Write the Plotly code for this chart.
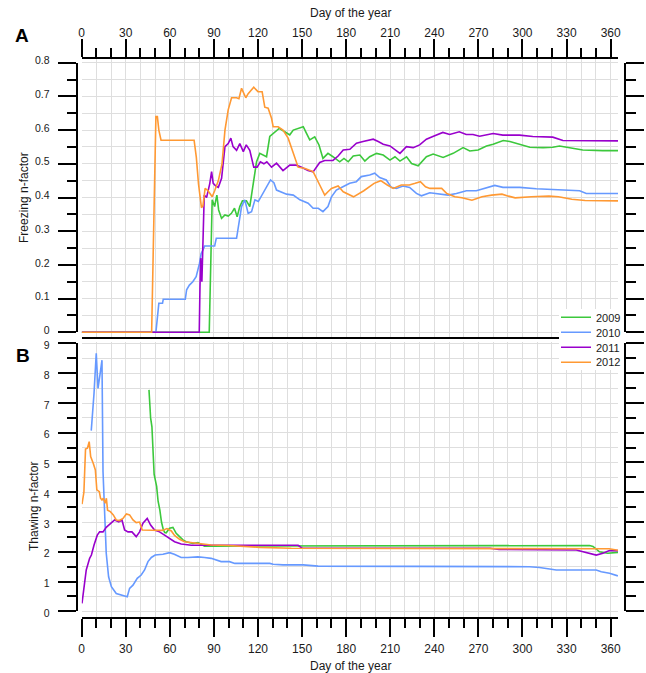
import plotly.graph_objects as go

W, H = 646, 673


def fx(x):
    return x / W


def fy(y):
    return 1 - y / H


# ---------------- data ----------------
years = ["2009", "2010", "2011", "2012"]
colors = ["rgb(60,200,60)", "rgb(102,153,255)", "rgb(153,0,204)", "rgb(255,153,51)"]

# Panel A: freezing n-factor
a2009_day = [0, 86.8, 88.8, 89.5, 90.5, 91.3, 92, 93.2, 95.2, 97.5, 99.7, 101.9, 104, 105.8, 107.6, 109.4,
             112.1, 114.4, 116.7, 119, 121.2, 123.5, 125.8, 128, 131.4, 134.4, 138.2, 141.6, 144, 147.3,
             150.8, 153, 155.2, 158.6, 161.5, 164.2, 167.6, 171, 175.6, 178.5, 181.4, 184.8, 189.3, 192.7,
             196, 200.7, 205.2, 209.8, 213.2, 216.6, 221.1, 224.5, 229, 234.6, 239.2, 246, 252.8, 259.6,
             264.1, 269.8, 275.5, 280, 286.9, 291.4, 298.2, 305, 314, 320.6, 325.2, 332, 341, 354.6, 365]
a2009_val = [0, 0, 0.393, 0.383, 0.373, 0.393, 0.407, 0.363, 0.338, 0.348, 0.345, 0.353, 0.368, 0.343,
             0.373, 0.39, 0.39, 0.373, 0.442, 0.506, 0.531, 0.526, 0.521, 0.581, 0.595, 0.605, 0.595,
             0.586, 0.60, 0.605, 0.61, 0.59, 0.571, 0.58, 0.556, 0.516, 0.531, 0.521, 0.506, 0.516, 0.506,
             0.523, 0.526, 0.508, 0.521, 0.531, 0.526, 0.511, 0.521, 0.508, 0.521, 0.501, 0.494, 0.521,
             0.529, 0.519, 0.531, 0.548, 0.538, 0.541, 0.553, 0.558, 0.569, 0.566, 0.558, 0.549, 0.548,
             0.549, 0.553, 0.548, 0.541, 0.539, 0.539]

a2010_day = [0, 50.5, 52.5, 55, 55.5, 70.5, 71.4, 73.3, 75.6, 77.9, 80.2, 81.3, 82.5, 83.7, 90.5, 91.6,
             105.4, 106.5, 108.8, 111, 113.3, 115.6, 117.9, 120.2, 122.5, 125.8, 128.5, 130.8, 132.6,
             139.4, 144, 148.5, 154.1, 157.5, 161, 164.2, 167.6, 170, 173.3, 177.8, 182.4, 186.9, 190.3,
             196, 199.4, 202.8, 207.3, 210.7, 214.2, 218.7, 223.2, 227.8, 231.2, 236.9, 243.7, 249.3, 255,
             261.8, 268.6, 275.4, 281.1, 286.7, 298.1, 309.4, 320.7, 334.3, 338.9, 343.4, 365]
a2010_val = [0, 0, 0.086, 0.086, 0.098, 0.098, 0.126, 0.14, 0.15, 0.165, 0.205, 0.234, 0.244, 0.256,
             0.256, 0.279, 0.279, 0.313, 0.373, 0.393, 0.353, 0.358, 0.393, 0.388, 0.407, 0.432, 0.452,
             0.444, 0.422, 0.41, 0.407, 0.393, 0.383, 0.368, 0.368, 0.358, 0.373, 0.402, 0.422, 0.432,
             0.442, 0.447, 0.462, 0.467, 0.472, 0.459, 0.452, 0.43, 0.427, 0.434, 0.43, 0.412, 0.405,
             0.414, 0.409, 0.407, 0.412, 0.42, 0.42, 0.429, 0.436, 0.43, 0.43, 0.426, 0.424, 0.422, 0.42,
             0.412, 0.412]

a2011_day = [0, 80, 80.5, 81, 81.8, 82.7, 83.4, 85, 86, 87.2, 88.4, 89.5, 91.3, 93, 95.2, 97.5, 99.7,
             101.5, 103, 105.4, 107.6, 110, 112, 114.4, 117.1, 119.4, 121.6, 124, 126, 129.2, 132.6, 137,
             141.6, 146, 149.6, 154, 157.5, 162, 165.4, 171, 174.5, 178, 182.5, 187, 191.5, 198.4, 201.8,
             205.2, 209.8, 216.6, 221, 225.6, 230, 234.6, 239, 245.8, 250.4, 257, 261.7, 266.3, 270.8,
             280, 286.6, 298, 307, 320.6, 327.5, 343.3, 365]
a2011_val = [0, 0, 0.135, 0.22, 0.15, 0.294, 0.407, 0.40, 0.42, 0.442, 0.477, 0.442, 0.434, 0.43, 0.457,
             0.551, 0.56, 0.576, 0.551, 0.54, 0.56, 0.536, 0.556, 0.54, 0.49, 0.49, 0.506, 0.50, 0.506,
             0.49, 0.502, 0.48, 0.496, 0.496, 0.49, 0.48, 0.476, 0.504, 0.51, 0.51, 0.523, 0.541, 0.543,
             0.561, 0.566, 0.573, 0.566, 0.558, 0.553, 0.531, 0.551, 0.548, 0.556, 0.573, 0.581, 0.593,
             0.587, 0.595, 0.587, 0.587, 0.582, 0.59, 0.585, 0.585, 0.581, 0.579, 0.569, 0.568, 0.568]

a2012_day = [0, 47.6, 50.5, 51.5, 52.5, 54, 76.5, 78, 79.5, 81.5, 82.5, 84, 86, 88.8, 90.5, 93, 95.5,
             97.5, 99.7, 102, 105.4, 107, 108.8, 111.7, 113.3, 117.1, 120, 122.8, 124.6, 126.9, 129.2,
             130.3, 133.7, 137, 140.5, 144, 147.3, 152, 157.5, 162, 165.4, 167.6, 170, 174.5, 178, 185,
             192, 199, 203.5, 208, 212, 217.5, 223, 227, 230.5, 234, 237, 245, 248.5, 254, 258.8, 265.6,
             272.4, 279, 286, 290.5, 295, 306, 318, 324.5, 333.6, 342.6, 354, 365]
a2012_val = [0, 0, 0.64, 0.64, 0.60, 0.57, 0.57, 0.52, 0.44, 0.37, 0.375, 0.427, 0.42, 0.402, 0.42, 0.45,
             0.50, 0.60, 0.66, 0.696, 0.696, 0.693, 0.724, 0.696, 0.708, 0.727, 0.714, 0.714, 0.668,
             0.665, 0.635, 0.61, 0.61, 0.60, 0.576, 0.531, 0.49, 0.486, 0.477, 0.437, 0.407, 0.417, 0.427,
             0.434, 0.417, 0.402, 0.42, 0.442, 0.45, 0.437, 0.427, 0.437, 0.437, 0.442, 0.447, 0.432,
             0.427, 0.427, 0.412, 0.402, 0.399, 0.392, 0.402, 0.407, 0.41, 0.404, 0.399, 0.402, 0.404,
             0.402, 0.395, 0.391, 0.39, 0.39]

# Panel B: thawing n-factor
b2009_day = [45.8, 46.9, 47.8, 48.6, 49.3, 51, 52, 53.2, 54.3, 55.5, 56.5, 57.5, 59.8, 62.1, 64.3, 66.6,
             68.9, 71.1, 75.6, 79.1, 83.6, 88.1, 147, 320, 325, 345.6, 348, 352.4, 358, 365]
b2009_val = [7.44, 6.5, 6.2, 5.0, 4.6, 4.2, 3.7, 3.4, 3.0, 2.75, 2.65, 2.64, 2.79, 2.82, 2.62, 2.51, 2.40,
             2.34, 2.28, 2.31, 2.19, 2.19, 2.19, 2.19, 2.21, 2.21, 2.18, 2.0, 1.95, 1.98]

b2010_day = [6.5, 8.4, 9.9, 11.1, 12.4, 13.8, 14.5, 15.6, 16.7, 18.3, 20.2, 23.5, 26.9, 31, 32.6, 34.9,
             37.8, 40.5, 42.8, 45.1, 47.4, 50, 55.3, 59.8, 63, 67.7, 72.2, 79.1, 83.6, 88.1, 94.9, 100.6,
             104.2, 128, 130.3, 137, 150.7, 160.9, 304.8, 311.6, 323, 350.2, 353.6, 359.2, 364.9]
b2010_val = [6.07, 7.33, 8.67, 7.49, 7.94, 8.44, 4.7, 3.07, 1.95, 1.16, 0.83, 0.6, 0.55, 0.49, 0.77, 0.88,
             1.11, 1.22, 1.39, 1.67, 1.81, 1.89, 1.92, 1.97, 1.92, 1.81, 1.81, 1.83, 1.81, 1.78, 1.67,
             1.67, 1.61, 1.61, 1.58, 1.56, 1.56, 1.52, 1.50, 1.47, 1.39, 1.39, 1.33, 1.28, 1.19]

b2011_day = [0.2, 2, 3.1, 5.4, 6.6, 8.4, 10.6, 12.2, 14.5, 16.7, 20.2, 22.4, 25.2, 27.4, 29.2, 31.5, 34.2,
             37.1, 39.4, 41.7, 44.6, 46.9, 49.6, 53, 56.4, 59.8, 63.2, 67.7, 74.6, 88.1, 147.3, 150, 278,
             284, 336.6, 350.2, 354.7, 359.2, 366]
b2011_val = [0.27, 1.05, 1.39, 1.78, 1.89, 2.23, 2.56, 2.67, 2.67, 2.82, 2.96, 3.07, 3.01, 3.07, 2.73,
             2.67, 2.67, 2.51, 2.67, 2.96, 3.12, 2.9, 2.73, 2.67, 2.56, 2.45, 2.34, 2.26, 2.22, 2.22, 2.22,
             2.12, 2.12, 2.08, 2.06, 1.89, 1.95, 2.04, 2.04]

b2012_day = [0.2, 1.5, 2.6, 3.9, 5.1, 6.1, 7.9, 9.3, 10.3, 12, 12.8, 13.8, 14.7, 16, 16.8, 17.6, 19.5,
             21.5, 23.5, 25.6, 28.1, 30.4, 32.6, 34.9, 37.1, 39.4, 41.2, 43.9, 47.4, 50.7, 55, 58, 61, 63.2,
             66.6, 70, 74.6, 79.1, 88.1, 100, 121, 142.7, 341, 359, 365.5]
b2012_val = [3.6, 4.0, 5.45, 5.48, 5.70, 5.2, 4.97, 4.75, 4.08, 4.02, 3.80, 3.74, 3.8, 3.63, 3.80, 3.4,
             3.35, 3.24, 3.07, 3.05, 3.12, 3.27, 3.24, 3.07, 2.98, 3.0, 2.73, 2.73, 2.73, 2.71, 2.72, 2.78,
             2.7, 2.55, 2.42, 2.34, 2.31, 2.28, 2.23, 2.21, 2.15, 2.12, 2.12, 2.10, 2.05]

day_ticks = list(range(0, 361, 30))

# ---------------- layout geometry ----------------
XD = [fx(81.7), fx(618)]
YA = [fy(337), fy(59.3)]
YA_t = [fy(332.3), fy(62.7)]
YB = [fy(616.7), fy(342)]
YB_t = [fy(611.3), fy(343.3)]

GRID = "rgb(222,222,222)"
FONT = "Liberation Sans, Arial, sans-serif"
TXT = "#1a1a1a"

fig = go.Figure()

a_sets = [(a2009_day, a2009_val), (a2010_day, a2010_val), (a2011_day, a2011_val), (a2012_day, a2012_val)]
b_sets = [(b2009_day, b2009_val), (b2010_day, b2010_val), (b2011_day, b2011_val), (b2012_day, b2012_val)]
legend_ids = ["legend", "legend2", "legend3", "legend4"]

for name, col, lg, (d, v) in zip(years, colors, legend_ids, a_sets):
    fig.add_trace(go.Scatter(x=d, y=v, mode="lines", name=name, legendgroup=name, legend=lg,
                             line=dict(color=col, width=1.6), xaxis="x", yaxis="y"))
for name, col, (d, v) in zip(years, colors, b_sets):
    fig.add_trace(go.Scatter(x=d, y=v, mode="lines", name=name, legendgroup=name, showlegend=False,
                             line=dict(color=col, width=1.6), xaxis="x2", yaxis="y2"))

# empty traces to host the framing axes
for ya in ["y3", "y4", "y5", "y6"]:
    fig.add_trace(go.Scatter(x=[None], y=[None], xaxis="x3", yaxis=ya, showlegend=False,
                             hoverinfo="skip"))

tick_common = dict(showline=True, linecolor="black", linewidth=2, ticks="outside", tickcolor="black",
                   tickwidth=2, zeroline=False, automargin=False)

xa = dict(domain=XD, range=[0, 365], tickvals=day_ticks, ticklen=18, showgrid=True, gridcolor=GRID,
          gridwidth=1, tickfont=dict(family=FONT, size=12, color=TXT),
          minor=dict(dtick=10, tick0=0, ticks="outside", ticklen=9, tickwidth=2, tickcolor="black",
                     showgrid=True, gridcolor=GRID, gridwidth=1),
          **tick_common)
yfont = dict(family=FONT, size=10.5, color=TXT)

# legend entries placed one by one to match the tight spacing of the original
legend_y = [317.3, 332.3, 347.3, 362.2]
legend_layout = {}
for lg, yy in zip(legend_ids, legend_y):
    legend_layout[lg] = dict(x=fx(556), y=fy(yy), xanchor="left", yanchor="middle",
                             bgcolor="rgba(0,0,0,0)", borderwidth=0,
                             font=dict(family=FONT, size=11, color=TXT))

fig.update_layout(
    width=W, height=H,
    margin=dict(l=0, r=0, t=0, b=0, pad=0, autoexpand=False),
    paper_bgcolor="white", plot_bgcolor="rgba(0,0,0,0)",
    hovermode=False,
    font=dict(family=FONT, size=12, color=TXT),
    xaxis=dict(anchor="y", side="top", mirror=True, ticklabelstandoff=-2, **xa),
    yaxis=dict(domain=YA, range=[-0.014, 0.8101], anchor="x", showticklabels=False, ticks="",
               showline=False, zeroline=False, showgrid=True, gridcolor=GRID, dtick=0.1, tick0=0,
               minor=dict(dtick=0.05, tick0=0, showgrid=True, gridcolor=GRID, gridwidth=1)),
    xaxis2=dict(anchor="y2", side="bottom", ticklabelstandoff=2, **xa),
    yaxis2=dict(domain=YB, range=[-0.181, 9.05], anchor="x2", showticklabels=False, ticks="",
                showline=False, zeroline=False, showgrid=True, gridcolor=GRID, dtick=1, tick0=0,
                minor=dict(dtick=0.5, tick0=0, showgrid=True, gridcolor=GRID, gridwidth=1)),
    xaxis3=dict(domain=XD, range=[0, 365], anchor="y3", visible=False),
    yaxis3=dict(domain=YA_t, range=[0, 0.8], anchor="free", position=fx(76.7), side="left",
                dtick=0.1, tick0=0, ticklen=18, showgrid=False, tickfont=yfont,
                ticklabelstandoff=6, ticklabelshift=-2,
                minor=dict(dtick=0.05, tick0=0, ticks="outside", ticklen=9, tickwidth=2,
                           tickcolor="black"), **tick_common),
    yaxis4=dict(domain=YA_t, range=[0, 0.8], anchor="free", position=fx(625), side="right",
                dtick=0.1, tick0=0, ticklen=18, showgrid=False, showticklabels=False,
                minor=dict(dtick=0.05, tick0=0, ticks="outside", ticklen=10, tickwidth=2,
                           tickcolor="black"), **tick_common),
    yaxis5=dict(domain=YB_t, range=[0, 9], anchor="free", position=fx(76.7), side="left",
                dtick=1, tick0=0, ticklen=18, showgrid=False, tickfont=yfont,
                ticklabelstandoff=6, ticklabelshift=2,
                minor=dict(dtick=0.5, tick0=0, ticks="outside", ticklen=9, tickwidth=2,
                           tickcolor="black"), **tick_common),
    yaxis6=dict(domain=YB_t, range=[0, 9], anchor="free", position=fx(625), side="right",
                dtick=1, tick0=0, ticklen=18, showgrid=False, showticklabels=False,
                minor=dict(dtick=0.5, tick0=0, ticks="outside", ticklen=10, tickwidth=2,
                           tickcolor="black"), **tick_common),
    showlegend=True,
    **legend_layout,
)

# white backing behind the legend entries (covers grid and the panel-A base line)
fig.add_shape(type="rect", xref="paper", yref="paper", x0=fx(559), x1=fx(618.5), y0=fy(370),
              y1=fy(309), fillcolor="white", line=dict(width=0), layer="above")

ann = [
    dict(text="<b>A</b>", x=fx(21.7), y=fy(35), font=dict(size=19, color="black")),
    dict(text="<b>B</b>", x=fx(22.5), y=fy(355), font=dict(size=19, color="black")),
    dict(text="Day of the year", x=fx(350), y=fy(12.5), font=dict(size=12)),
    dict(text="Day of the year", x=fx(351), y=fy(665.5), font=dict(size=12)),
    dict(text="Freezing n-factor", x=fx(24), y=fy(198), textangle=-90, font=dict(size=12)),
    dict(text="Thawing n-factor", x=fx(34), y=fy(507), textangle=-90, font=dict(size=12)),
]
for a in ann:
    fig.add_annotation(xref="paper", yref="paper", showarrow=False, xanchor="center", yanchor="middle",
                       **a)

fig.write_html("out.html")
